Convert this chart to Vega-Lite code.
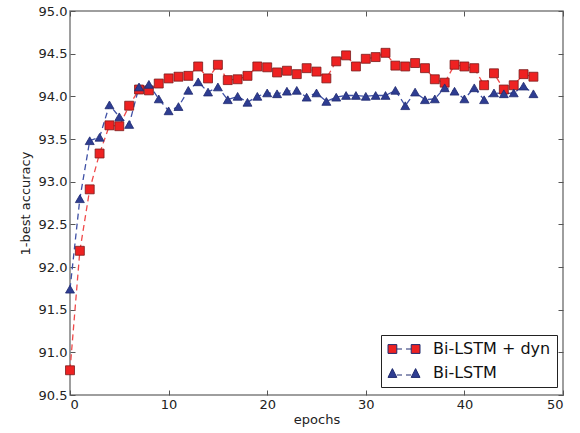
{
  "$schema": "https://vega.github.io/schema/vega-lite/v6.json",
  "width": 493,
  "height": 384,
  "autosize": "none",
  "padding": {"left": 70, "top": 11, "right": 17, "bottom": 38},
  "config": {
    "font": "DejaVu Sans",
    "view": {"stroke": "#7f7f7f", "strokeWidth": 1.5},
    "axis": {
      "domain": false,
      "grid": false,
      "tickSize": -5,
      "tickColor": "#555555",
      "tickWidth": 1,
      "labelFont": "DejaVu Sans",
      "labelFontSize": 13,
      "labelColor": "#222222",
      "titleFont": "DejaVu Sans",
      "titleFontSize": 13,
      "titleFontWeight": "normal",
      "titleColor": "#222222"
    }
  },
  "data": {"values": [
    {"epoch":0,"model":"Bi-LSTM + dyn","acc":90.79},{"epoch":1,"model":"Bi-LSTM + dyn","acc":92.19},{"epoch":2,"model":"Bi-LSTM + dyn","acc":92.91},{"epoch":3,"model":"Bi-LSTM + dyn","acc":93.33},{"epoch":4,"model":"Bi-LSTM + dyn","acc":93.66},{"epoch":5,"model":"Bi-LSTM + dyn","acc":93.65},{"epoch":6,"model":"Bi-LSTM + dyn","acc":93.89},{"epoch":7,"model":"Bi-LSTM + dyn","acc":94.08},{"epoch":8,"model":"Bi-LSTM + dyn","acc":94.07},{"epoch":9,"model":"Bi-LSTM + dyn","acc":94.15},{"epoch":10,"model":"Bi-LSTM + dyn","acc":94.21},{"epoch":11,"model":"Bi-LSTM + dyn","acc":94.23},{"epoch":12,"model":"Bi-LSTM + dyn","acc":94.24},{"epoch":13,"model":"Bi-LSTM + dyn","acc":94.35},{"epoch":14,"model":"Bi-LSTM + dyn","acc":94.21},{"epoch":15,"model":"Bi-LSTM + dyn","acc":94.37},{"epoch":16,"model":"Bi-LSTM + dyn","acc":94.19},{"epoch":17,"model":"Bi-LSTM + dyn","acc":94.20},{"epoch":18,"model":"Bi-LSTM + dyn","acc":94.24},{"epoch":19,"model":"Bi-LSTM + dyn","acc":94.35},{"epoch":20,"model":"Bi-LSTM + dyn","acc":94.34},{"epoch":21,"model":"Bi-LSTM + dyn","acc":94.28},{"epoch":22,"model":"Bi-LSTM + dyn","acc":94.30},{"epoch":23,"model":"Bi-LSTM + dyn","acc":94.26},{"epoch":24,"model":"Bi-LSTM + dyn","acc":94.33},{"epoch":25,"model":"Bi-LSTM + dyn","acc":94.29},{"epoch":26,"model":"Bi-LSTM + dyn","acc":94.21},{"epoch":27,"model":"Bi-LSTM + dyn","acc":94.41},{"epoch":28,"model":"Bi-LSTM + dyn","acc":94.48},{"epoch":29,"model":"Bi-LSTM + dyn","acc":94.35},{"epoch":30,"model":"Bi-LSTM + dyn","acc":94.44},{"epoch":31,"model":"Bi-LSTM + dyn","acc":94.46},{"epoch":32,"model":"Bi-LSTM + dyn","acc":94.51},{"epoch":33,"model":"Bi-LSTM + dyn","acc":94.36},{"epoch":34,"model":"Bi-LSTM + dyn","acc":94.35},{"epoch":35,"model":"Bi-LSTM + dyn","acc":94.39},{"epoch":36,"model":"Bi-LSTM + dyn","acc":94.33},{"epoch":37,"model":"Bi-LSTM + dyn","acc":94.20},{"epoch":38,"model":"Bi-LSTM + dyn","acc":94.16},{"epoch":39,"model":"Bi-LSTM + dyn","acc":94.37},{"epoch":40,"model":"Bi-LSTM + dyn","acc":94.35},{"epoch":41,"model":"Bi-LSTM + dyn","acc":94.33},{"epoch":42,"model":"Bi-LSTM + dyn","acc":94.13},{"epoch":43,"model":"Bi-LSTM + dyn","acc":94.27},{"epoch":44,"model":"Bi-LSTM + dyn","acc":94.08},{"epoch":45,"model":"Bi-LSTM + dyn","acc":94.13},{"epoch":46,"model":"Bi-LSTM + dyn","acc":94.26},{"epoch":47,"model":"Bi-LSTM + dyn","acc":94.23},
    {"epoch":0,"model":"Bi-LSTM","acc":91.74},{"epoch":1,"model":"Bi-LSTM","acc":92.80},{"epoch":2,"model":"Bi-LSTM","acc":93.48},{"epoch":3,"model":"Bi-LSTM","acc":93.52},{"epoch":4,"model":"Bi-LSTM","acc":93.90},{"epoch":5,"model":"Bi-LSTM","acc":93.76},{"epoch":6,"model":"Bi-LSTM","acc":93.67},{"epoch":7,"model":"Bi-LSTM","acc":94.11},{"epoch":8,"model":"Bi-LSTM","acc":94.14},{"epoch":9,"model":"Bi-LSTM","acc":93.97},{"epoch":10,"model":"Bi-LSTM","acc":93.83},{"epoch":11,"model":"Bi-LSTM","acc":93.88},{"epoch":12,"model":"Bi-LSTM","acc":94.07},{"epoch":13,"model":"Bi-LSTM","acc":94.17},{"epoch":14,"model":"Bi-LSTM","acc":94.05},{"epoch":15,"model":"Bi-LSTM","acc":94.11},{"epoch":16,"model":"Bi-LSTM","acc":93.96},{"epoch":17,"model":"Bi-LSTM","acc":94.00},{"epoch":18,"model":"Bi-LSTM","acc":93.93},{"epoch":19,"model":"Bi-LSTM","acc":94.00},{"epoch":20,"model":"Bi-LSTM","acc":94.04},{"epoch":21,"model":"Bi-LSTM","acc":94.03},{"epoch":22,"model":"Bi-LSTM","acc":94.06},{"epoch":23,"model":"Bi-LSTM","acc":94.07},{"epoch":24,"model":"Bi-LSTM","acc":93.99},{"epoch":25,"model":"Bi-LSTM","acc":94.04},{"epoch":26,"model":"Bi-LSTM","acc":93.94},{"epoch":27,"model":"Bi-LSTM","acc":93.99},{"epoch":28,"model":"Bi-LSTM","acc":94.01},{"epoch":29,"model":"Bi-LSTM","acc":94.01},{"epoch":30,"model":"Bi-LSTM","acc":94.00},{"epoch":31,"model":"Bi-LSTM","acc":94.01},{"epoch":32,"model":"Bi-LSTM","acc":94.01},{"epoch":33,"model":"Bi-LSTM","acc":94.07},{"epoch":34,"model":"Bi-LSTM","acc":93.89},{"epoch":35,"model":"Bi-LSTM","acc":94.05},{"epoch":36,"model":"Bi-LSTM","acc":93.96},{"epoch":37,"model":"Bi-LSTM","acc":93.97},{"epoch":38,"model":"Bi-LSTM","acc":94.10},{"epoch":39,"model":"Bi-LSTM","acc":94.06},{"epoch":40,"model":"Bi-LSTM","acc":93.97},{"epoch":41,"model":"Bi-LSTM","acc":94.10},{"epoch":42,"model":"Bi-LSTM","acc":93.96},{"epoch":43,"model":"Bi-LSTM","acc":94.04},{"epoch":44,"model":"Bi-LSTM","acc":94.03},{"epoch":45,"model":"Bi-LSTM","acc":94.04},{"epoch":46,"model":"Bi-LSTM","acc":94.12},{"epoch":47,"model":"Bi-LSTM","acc":94.03}
  ]},
  "layer": [
    {
      "transform": [{"filter": "datum.model === 'Bi-LSTM + dyn'"}],
      "mark": {"type": "line", "strokeDash": [6, 4], "strokeWidth": 1.3, "color": "#f04a4a"},
      "encoding": {
        "x": {"field": "epoch", "type": "quantitative", "scale": {"domain": [0, 50], "nice": false},
              "axis": {"values": [0, 10, 20, 30, 40, 50], "title": "epochs", "labelPadding": 8, "titlePadding": 2}},
        "y": {"field": "acc", "type": "quantitative", "scale": {"domain": [90.5, 95], "nice": false, "zero": false},
              "axis": {"values": [90.5, 91, 91.5, 92, 92.5, 93, 93.5, 94, 94.5, 95], "format": ".1f", "title": "1-best accuracy", "labelPadding": 8, "titlePadding": 6}}
      }
    },
    {
      "transform": [{"filter": "datum.model === 'Bi-LSTM'"}],
      "mark": {"type": "line", "strokeDash": [6, 4], "strokeWidth": 1.3, "color": "#3f51a6"},
      "encoding": {
        "x": {"field": "epoch", "type": "quantitative", "axis": null},
        "y": {"field": "acc", "type": "quantitative", "axis": null}
      }
    },
    {
      "transform": [{"filter": "datum.model === 'Bi-LSTM + dyn'"}],
      "mark": {"type": "point", "shape": "square", "filled": true, "size": 80, "opacity": 1, "stroke": "#7a1a1a", "strokeWidth": 0.8},
      "encoding": {
        "x": {"field": "epoch", "type": "quantitative", "axis": null},
        "y": {"field": "acc", "type": "quantitative", "axis": null},
        "fill": {"field": "model", "type": "nominal", "scale": {"domain": ["Bi-LSTM + dyn", "Bi-LSTM"], "range": ["#ee2222", "#2e3d92"]},
          "legend": {
            "title": null,
            "orient": "none",
            "legendX": 311,
            "legendY": 324,
            "strokeColor": "#222222",
            "fillColor": "white",
            "padding": 6,
            "symbolSize": 64,
            "symbolOpacity": 1,
            "symbolStrokeWidth": 1,
            "symbolType": {"expr": "datum.value === 'Bi-LSTM' ? 'M-1.75,1.1 L-0.65,-1.1 L0.45,1.1 Z M4.05,1.1 L5.15,-1.1 L6.25,1.1 Z M0.45,0.5 H1.75 M2.75,0.5 H4.05' : 'M-1.75,-1.1 H0.45 V1.1 H-1.75 Z M4.05,-1.1 H6.25 V1.1 H4.05 Z M0.45,0 H1.75 M2.75,0 H4.05'"},
            "symbolStrokeColor": {"expr": "datum.value === 'Bi-LSTM' ? '#3f51a6' : '#d42a2a'"},
            "labelFontSize": 16,
            "labelFont": "DejaVu Sans",
            "labelColor": "#111111",
            "labelOffset": 30,
            "rowPadding": 8
          }}
      }
    },
    {
      "transform": [{"filter": "datum.model === 'Bi-LSTM'"}],
      "mark": {"type": "point", "shape": "triangle-up", "filled": true, "size": 80, "opacity": 1, "stroke": "#1f2a6e", "strokeWidth": 0.8},
      "encoding": {
        "x": {"field": "epoch", "type": "quantitative", "axis": null},
        "y": {"field": "acc", "type": "quantitative", "axis": null},
        "fill": {"field": "model", "type": "nominal"}
      }
    },
    {
      "mark": {"type": "point", "opacity": 0},
      "encoding": {
        "x": {"field": "epoch", "type": "quantitative", "axis": {"orient": "top", "values": [0, 10, 20, 30, 40, 50], "labels": false, "title": null}},
        "y": {"field": "acc", "type": "quantitative", "axis": {"orient": "right", "values": [90.5, 91, 91.5, 92, 92.5, 93, 93.5, 94, 94.5, 95], "labels": false, "title": null}}
      }
    }
  ],
  "resolve": {"axis": {"x": "independent", "y": "independent"}}
}
